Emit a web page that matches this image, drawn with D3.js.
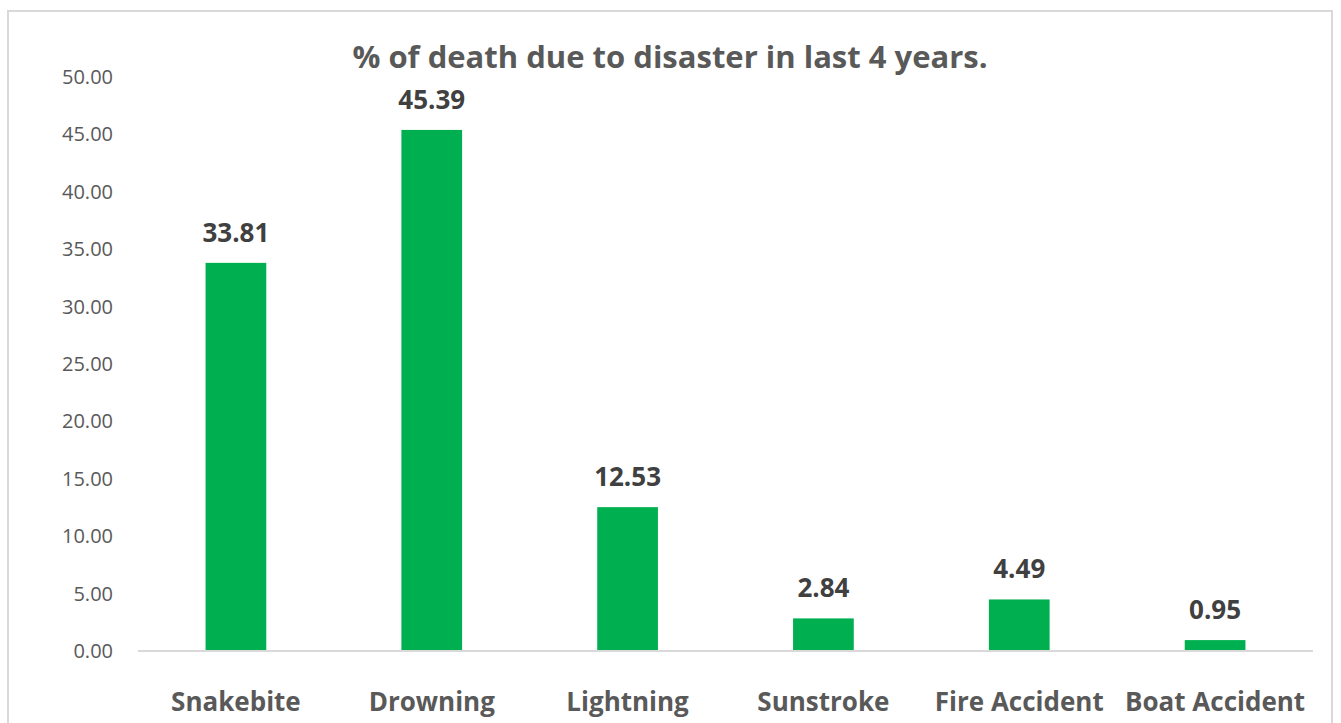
<!DOCTYPE html>
<html>
<head>
<meta charset="utf-8">
<script src="https://cdn.jsdelivr.net/npm/d3@7"></script>
<style>
  body { margin: 0; background: #fff; }
  svg { display: block; }
  text { font-family: "Open Sans", sans-serif; }
</style>
</head>
<body>
<svg id="chart" width="1341" height="723"></svg>
<script>
const categories = ["Snakebite", "Drowning", "Lightning", "Sunstroke", "Fire Accident", "Boat Accident"];
const values = [33.81, 45.39, 12.53, 2.84, 4.49, 0.95];
const yTicks = [0, 5, 10, 15, 20, 25, 30, 35, 40, 45, 50];
const title = "% of death due to disaster in last 4 years.";

const svg = d3.select("#chart");

// outer chart frame
svg.append("rect")
  .attr("x", 8).attr("y", 11)
  .attr("width", 1324).attr("height", 730)
  .attr("fill", "#fff")
  .attr("stroke", "#d9d9d9")
  .attr("stroke-width", 2);

const x = d3.scaleBand()
  .domain(categories)
  .range([138, 1313]);

const y = d3.scaleLinear()
  .domain([0, 50])
  .range([651, 77]);

const barW = x.bandwidth() * 0.31;

// y tick labels
svg.append("g")
  .selectAll("text")
  .data(yTicks)
  .enter()
  .append("text")
  .attr("x", 113)
  .attr("y", (d) => y(d))
  .attr("dy", "0.35em")
  .attr("text-anchor", "end")
  .attr("fill", "#595959")
  .style("font-size", "20px")
  .text((d) => d.toFixed(2));

// bars
svg.append("g")
  .selectAll("rect")
  .data(values)
  .enter()
  .append("rect")
  .attr("x", (d, i) => x(categories[i]) + (x.bandwidth() - barW) / 2)
  .attr("width", barW)
  .attr("y", (d) => y(d))
  .attr("height", (d) => y(0) - y(d))
  .attr("fill", "#00b050");

// baseline
svg.append("line")
  .attr("x1", 138).attr("x2", 1313)
  .attr("y1", y(0)).attr("y2", y(0))
  .attr("stroke", "#d9d9d9")
  .attr("stroke-width", 2);

// value labels
svg.append("g")
  .selectAll("text")
  .data(values)
  .enter()
  .append("text")
  .attr("x", (d, i) => x(categories[i]) + x.bandwidth() / 2)
  .attr("y", (d) => y(d) - 21)
  .attr("text-anchor", "middle")
  .attr("fill", "#404040")
  .style("font-size", "26px")
  .style("font-weight", "bold")
  .text((d) => d.toFixed(2));

// category labels
svg.append("g")
  .selectAll("text")
  .data(categories)
  .enter()
  .append("text")
  .attr("x", (d) => x(d) + x.bandwidth() / 2)
  .attr("y", 702)
  .attr("dy", "0.35em")
  .attr("text-anchor", "middle")
  .attr("fill", "#595959")
  .style("font-size", "26px")
  .style("font-weight", "bold")
  .text((d) => d);

// title
svg.append("text")
  .attr("x", 670)
  .attr("y", 57)
  .attr("dy", "0.35em")
  .attr("text-anchor", "middle")
  .attr("fill", "#595959")
  .style("font-size", "31px")
  .style("font-weight", "bold")
  .text(title);
</script>
</body>
</html>
